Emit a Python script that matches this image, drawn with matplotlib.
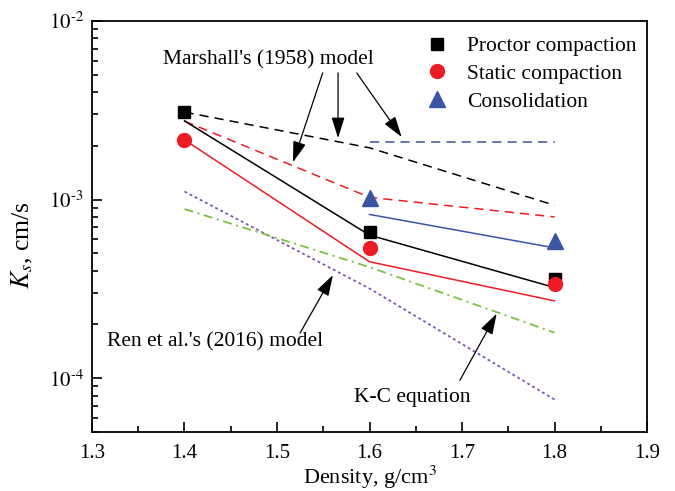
import matplotlib
matplotlib.use('Agg')
import matplotlib.pyplot as plt
from matplotlib.ticker import LogLocator, MultipleLocator, NullFormatter

plt.rcParams['font.family'] = ['Liberation Serif', 'DejaVu Serif']
plt.rcParams['mathtext.fontset'] = 'stix'

density = [1.4, 1.6, 1.8]

# measured Ks (cm/s)
proctor = [3.09e-3, 6.6e-4, 3.6e-4]
static = [2.16e-3, 5.35e-4, 3.37e-4]
consol_x = [1.6, 1.8]
consol = [1.025e-3, 5.87e-4]

# Marshall (1958) model, dashed
marshall_proctor = [3.09e-3, 1.95e-3, 9.3e-4]
marshall_static = [2.75e-3, 1.03e-3, 8.0e-4]
marshall_consol = [2.11e-3, 2.11e-3]

# solid lines
fit_proctor = [2.76e-3, 6.33e-4, 3.22e-4]
fit_static = [2.16e-3, 4.49e-4, 2.71e-4]
fit_consol = [8.26e-4, 5.37e-4]

# Ren et al. (2016) model and K-C equation
ren = [1.11e-3, 3.18e-4, 7.6e-5]
kc = [8.85e-4, 4.19e-4, 1.80e-4]

ytick_vals = [1e-4, 1e-3, 1e-2]
ytick_labels = ['$10^{\\text{-}4}$', '$10^{\\text{-}3}$', '$10^{\\text{-}2}$']

red = '#ED1C24'
blue = '#3B54A3'
green = '#7AC143'
purple = '#7E57B4'

fig = plt.figure(figsize=(6.75, 4.91), dpi=100)
ax = fig.add_axes([92/675, 1 - 432/491, 555/675, 411/491])

ax.plot(density, marshall_proctor, color='k', lw=1.1, ls=(0, (6, 4)))
ax.plot(density, marshall_static, color=red, lw=1.1, ls=(0, (6, 4)))
ax.plot(consol_x, marshall_consol, color=blue, lw=1.1, ls=(0, (6, 4)))

ax.plot(density, fit_proctor, color='k', lw=1.1)
ax.plot(density, fit_static, color=red, lw=1.1)
ax.plot(consol_x, fit_consol, color=blue, lw=1.1)

ax.plot(density, ren, color=purple, lw=1.3, ls=(0, (1.6, 1.6)))
ax.plot(density, kc, color=green, lw=1.3, ls=(0, (5, 2.5, 1.2, 2.5)))

ax.plot(density, proctor, 's', color='k', ms=9, label='Proctor compaction')
ax.plot(density, static, 'o', color=red, ms=10, label='Static compaction')
ax.plot(consol_x, consol, '^', color=blue, ms=11.5, label='Consolidation')

ax.set_yscale('log')
ax.set_xlim(1.3, 1.9)
ax.set_ylim(5e-5, 1e-2)
ax.xaxis.set_major_locator(MultipleLocator(0.1))
ax.xaxis.set_minor_locator(MultipleLocator(0.05))
ax.yaxis.set_minor_locator(LogLocator(base=10, subs=range(2, 10), numticks=10))
ax.yaxis.set_minor_formatter(NullFormatter())
ax.set_yticks(ytick_vals)
ax.set_yticklabels(ytick_labels)
ax.tick_params(which='both', direction='in', top=False, right=False, labelsize=15, width=1.2)
ax.tick_params(axis='x', pad=9)
ax.tick_params(axis='y', pad=6)
ax.tick_params(which='major', length=7)
ax.tick_params(which='minor', length=4)
for s in ax.spines.values():
    s.set_linewidth(1.3)

ax.set_xlabel('Density, g/cm$^3$', fontsize=16, labelpad=0)
ax.set_ylabel('$K_s$, cm/s', fontsize=18.5)
ax.yaxis.set_label_coords(-0.103, 0.455)

ax.legend(loc='upper right', bbox_to_anchor=(1.008, 1.0), frameon=False, fontsize=15.5,
          handletextpad=0.8, labelspacing=0.36, borderaxespad=0.3, handlelength=1.2)

arrow = dict(arrowstyle='-|>,head_length=0.8,head_width=0.25', color='k', lw=0.9,
             mutation_scale=16, shrinkA=0, shrinkB=0)
ax.text(1.4906, 6.05e-3, "Marshall's (1958) model", fontsize=15.5, ha='center', va='center')
ax.annotate('', xy=(1.5173, 1.62e-3), xytext=(1.5494, 5.12e-3), arrowprops=arrow)
ax.annotate('', xy=(1.566, 2.21e-3), xytext=(1.566, 5.12e-3), arrowprops=arrow)
ax.annotate('', xy=(1.6348, 2.24e-3), xytext=(1.5862, 5.12e-3), arrowprops=arrow)

ax.text(1.433, 1.59e-4, "Ren et al.'s (2016) model", fontsize=15.5, ha='center', va='center')
ax.annotate('', xy=(1.5605, 3.78e-4), xytext=(1.5249, 1.79e-4), arrowprops=arrow)

ax.text(1.6465, 7.85e-5, 'K-C equation', fontsize=15.5, ha='center', va='center')
ax.annotate('', xy=(1.7375, 2.30e-4), xytext=(1.6978, 9.75e-5), arrowprops=arrow)

fig.savefig('out.png', dpi=100)
